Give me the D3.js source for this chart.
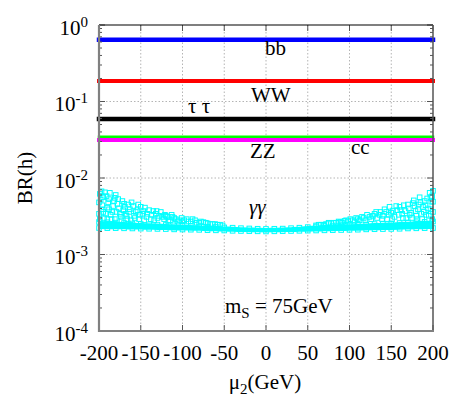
<!DOCTYPE html>
<html>
<head>
<meta charset="utf-8">
<script src="https://cdn.jsdelivr.net/npm/d3@7"></script>
<style>
  body{margin:0;background:#fff;}
  svg text{font-family:"Liberation Serif","DejaVu Serif","Times New Roman",serif;fill:#000;}
</style>
</head>
<body>
<div id="chart"></div>
<script>
/* BR(h) vs mu2 — flat channels + gamma gamma scatter */

/* ---------- DATA ---------- */
const MU_RANGE=[-200,200];
const X_TICKS=[-200,-150,-100,-50,0,50,100,150,200];
const Y_DECADES=[-4,-3,-2,-1,0];

const CH_NAMES=["bb","WW","tautau","cc","ZZ"];
const CH_BR=[0.643,0.185,0.059,0.0346,0.0314];
const CH_COL=["#0000ff","#ff0000","#000000","#00ff00","#ff00ff"];
const CH_WIDTH=[4.5,4,4.5,2.5,4];

/* gamma gamma dense band, every 10 GeV, units of 1e-3 */
const GG_MU=[-200,-190,-180,-170,-160,-150,-140,-130,-120,-110,-100,-90,-80,-70,-60,-50,-40,-30,-20,-10,
             0,10,20,30,40,50,60,70,80,90,100,110,120,130,140,150,160,170,180,190,200];
const GG_LO=[2.22,2.21,2.21,2.20,2.19,2.18,2.17,2.16,2.15,2.13,2.12,2.11,2.10,2.08,2.07,2.06,2.04,2.03,2.02,2.01,
             2.00,2.01,2.02,2.03,2.04,2.05,2.06,2.07,2.08,2.09,2.10,2.11,2.13,2.14,2.15,2.16,2.17,2.19,2.20,2.21,2.22];
const GG_HI=[2.66,2.64,2.61,2.58,2.54,2.50,2.48,2.46,2.43,2.41,2.38,2.36,2.33,2.31,2.29,2.26,2.24,2.21,2.19,2.17,
             2.16,2.17,2.18,2.21,2.24,2.28,2.32,2.36,2.39,2.41,2.42,2.44,2.47,2.50,2.53,2.55,2.58,2.61,2.64,2.67,2.70];

/* gamma gamma scattered points above the band: [mu, BR*1e3] */
const GG_PTS=[
  [-199,6.2],[-197,6.7],[-193,6.5],[-187,6.4],[-181,5.5],[-177,5.3],[-165,4.5],[-153,4.5],[-145,4.1],
  [-135,3.7],[-121,3.3],[-113,3.3],[-101,3.0],
  [-198,5.2],[-196,4.4],[-195,3.6],[-194,3.0],[-191,5.8],[-189,4.8],[-188,3.9],[-186,3.3],[-185,2.9],
  [-183,4.3],[-180,6.0],[-179,3.6],[-176,4.0],[-174,3.1],[-172,5.0],[-170,4.6],[-168,3.4],[-166,2.9],
  [-163,3.9],[-161,4.8],[-158,3.2],[-156,3.6],[-152,2.9],[-150,4.2],[-148,3.4],[-143,3.1],[-140,3.8],
  [-138,2.9],[-132,3.4],[-130,3.0],[-126,3.6],[-122,2.9],[-118,3.1],[-115,2.8],[-110,3.0],[-106,2.7],
  [-98,2.8],[-95,2.9],[-90,2.7],[-85,2.8],[-80,2.6],[-75,2.65],[-70,2.55],[-64,2.5],[-58,2.45],[-52,2.4],
  [-200,4.8],[-200,3.4],[-199,2.9],[-197,3.9],[-195,5.6],[-192,3.4],[-190,4.1],[-190,2.9],[-188,5.3],
  [-184,3.6],[-182,5.0],[-181,2.9],[-178,4.6],[-175,3.4],[-173,2.8],[-171,3.8],[-169,4.2],[-167,3.2],
  [-164,3.6],[-162,2.8],[-159,4.3],[-157,3.0],[-154,3.8],[-151,3.3],[-147,3.7],[-146,2.8],[-142,3.4],
  [-137,3.3],[-134,2.8],[-131,3.7],[-128,3.2],[-124,3.1],[-120,3.2],[-117,2.7],[-112,3.1],[-108,2.9],
  [-104,2.8],[-100,2.7],[-93,2.7],[-88,2.9],[-83,2.6],[-78,2.7],[-72,2.6],[-67,2.5],[-61,2.5],[-55,2.45],
  [200,6.8],[196,6.4],[184,5.6],[176,4.7],[160,4.2],[148,4.2],[137,3.6],[121,3.3],[104,2.8],[89,2.66],
  [199,5.8],[198,4.9],[197,3.9],[195,3.2],[193,5.4],[191,4.4],[189,3.6],[187,2.9],[185,4.8],[182,3.9],
  [180,3.2],[178,4.3],[174,3.5],[171,4.0],[168,3.0],[165,4.4],[163,3.4],[157,3.8],[154,3.1],[150,3.5],
  [145,2.9],[142,3.9],[140,3.2],[133,3.0],[130,3.4],[126,2.9],[117,3.0],[112,2.8],[108,3.0],[98,2.7],
  [94,2.75],[84,2.6],[78,2.55],[72,2.5],[66,2.45],[60,2.4],
  [200,4.9],[200,3.6],[199,2.9],[197,5.6],[194,4.0],[192,3.3],[190,5.0],[188,4.2],[186,3.4],[183,4.5],
  [181,2.9],[179,3.7],[177,5.1],[175,3.0],[172,3.3],[170,4.5],[167,3.7],[164,3.0],[161,3.8],[159,3.3],
  [156,4.3],[152,3.7],[151,2.9],[147,3.3],[144,3.6],[139,2.9],[136,3.3],[132,3.6],[128,3.2],[124,3.1],
  [119,2.8],[115,3.1],[110,2.9],[106,2.7],[101,2.9],[96,2.8],[91,2.6],[87,2.7],[81,2.6],[75,2.6],
  [69,2.45],[63,2.45]
];

/* ---------- CONFIG ---------- */
const W=471,H=419;
const PL=99,PR=433,PT=25,PB=331;
const CYAN="#00ffff";
const FS=21;
const SERIF="'Liberation Serif','DejaVu Serif','Times New Roman',serif";

const svg=d3.select("#chart").append("svg").attr("width",W).attr("height",H)
  .attr("font-family",SERIF);

const x=d3.scaleLinear().domain(MU_RANGE).range([PL,PR]);
const y=d3.scaleLog().domain([1e-4,1]).range([PB,PT]);

/* ---------- GRID ---------- */
const grid=svg.append("g").attr("stroke","#b4b4b4").attr("stroke-width",1).attr("stroke-dasharray","1.5,2");
X_TICKS.slice(1,-1).forEach(t=>grid.append("line")
  .attr("x1",x(t)).attr("x2",x(t)).attr("y1",PT).attr("y2",PB));
Y_DECADES.slice(1,-1).forEach(e=>grid.append("line")
  .attr("x1",PL).attr("x2",PR).attr("y1",y(Math.pow(10,e))).attr("y2",y(Math.pow(10,e))));

/* ---------- GAMMA GAMMA ---------- */
const band=GG_MU.map((m,i)=>({mu:m,lo:GG_LO[i]*1e-3,hi:GG_HI[i]*1e-3}));
svg.append("path").datum(band)
  .attr("d",d3.area().x(d=>x(d.mu)).y0(d=>y(d.lo)).y1(d=>y(d.hi)).curve(d3.curveMonotoneX))
  .attr("fill",CYAN).attr("stroke",CYAN).attr("stroke-width",2);

const sq=4.6;
const sqPts=[...band.map(d=>[d.mu,d.lo]),...band.map(d=>[d.mu,d.hi]),...GG_PTS.map(p=>[p[0],p[1]*1e-3])];
svg.append("g").selectAll("rect").data(sqPts).enter().append("rect")
  .attr("x",d=>x(d[0])-sq/2).attr("y",d=>y(d[1])-sq/2)
  .attr("width",sq).attr("height",sq)
  .attr("fill","none").attr("stroke",CYAN).attr("stroke-width",1);

/* ---------- FLAT CHANNELS ---------- */
CH_NAMES.forEach((n,i)=>{
  svg.append("line")
    .attr("x1",x(MU_RANGE[0])).attr("x2",x(MU_RANGE[1]))
    .attr("y1",y(CH_BR[i])).attr("y2",y(CH_BR[i]))
    .attr("stroke",CH_COL[i]).attr("stroke-width",CH_WIDTH[i]).attr("stroke-linecap","square");
});

/* ---------- AXES / TICKS ---------- */
const minor=[];
for(let e=-4;e<0;e++) for(let k=2;k<10;k++) minor.push(k*Math.pow(10,e));
const major=Y_DECADES.map(e=>Math.pow(10,e));

const tk=svg.append("g").attr("stroke","#555").attr("stroke-width",1);
[PL,PR].forEach(px=>{
  const dir=px===PL?1:-1;
  major.forEach(v=>tk.append("line").attr("x1",px).attr("x2",px+dir*6).attr("y1",y(v)).attr("y2",y(v)));
  minor.forEach(v=>tk.append("line").attr("x1",px).attr("x2",px+dir*3).attr("y1",y(v)).attr("y2",y(v)));
});
X_TICKS.forEach(t=>{
  tk.append("line").attr("x1",x(t)).attr("x2",x(t)).attr("y1",PB).attr("y2",PB-6);
  tk.append("line").attr("x1",x(t)).attr("x2",x(t)).attr("y1",PT).attr("y2",PT+6);
});

/* border */
svg.append("line").attr("x1",PL).attr("x2",PR).attr("y1",PT).attr("y2",PT).attr("stroke","#000").attr("stroke-width",1.2);
svg.append("line").attr("x1",PR).attr("x2",PR).attr("y1",PT).attr("y2",PB).attr("stroke","#555").attr("stroke-width",1.5);
svg.append("line").attr("x1",PL).attr("x2",PL).attr("y1",PT).attr("y2",PB+1).attr("stroke","#808080").attr("stroke-width",2.2);
svg.append("line").attr("x1",PL).attr("x2",PR+1).attr("y1",PB).attr("y2",PB).attr("stroke","#808080").attr("stroke-width",2);

/* y tick labels */
Y_DECADES.forEach(e=>{
  const t=svg.append("text").attr("x",88).attr("y",y(Math.pow(10,e))+9.5)
    .attr("text-anchor","end").style("font-size",FS+"px").text("10");
  t.append("tspan").attr("dy",-8).style("font-size","15px").text(e);
});

/* x tick labels */
svg.append("g").selectAll("text").data(X_TICKS).enter().append("text")
  .attr("x",d=>x(d)).attr("y",360).attr("text-anchor","middle")
  .style("font-size",FS+"px").text(d=>d);

/* axis titles */
svg.append("text").attr("transform","translate(32,178) rotate(-90)")
  .attr("text-anchor","middle").style("font-size",FS+"px").text("BR(h)");
const xt=svg.append("text").attr("x",265).attr("y",389).attr("text-anchor","middle").style("font-size",FS+"px");
xt.append("tspan").text("μ");
xt.append("tspan").attr("dy",5).style("font-size","15px").text("2");
xt.append("tspan").attr("dy",-5).text("(GeV)");

/* ---------- CHANNEL LABELS ---------- */
const lab=(tx,px,py)=>svg.append("text").attr("x",px).attr("y",py).style("font-size",FS+"px").text(tx);
lab("bb",265,55);
lab("WW",251,102);
lab("τ τ",188,113);
lab("ZZ",250,158);
lab("cc",351,154);
lab("γγ",249,214).style("font-style","italic");

const ms=svg.append("text").attr("x",225).attr("y",313).style("font-size",FS+"px");
ms.append("tspan").text("m");
ms.append("tspan").attr("dy",5).style("font-size","15px").text("S");
ms.append("tspan").attr("dy",-5).text(" = 75GeV");
</script>
</body>
</html>
